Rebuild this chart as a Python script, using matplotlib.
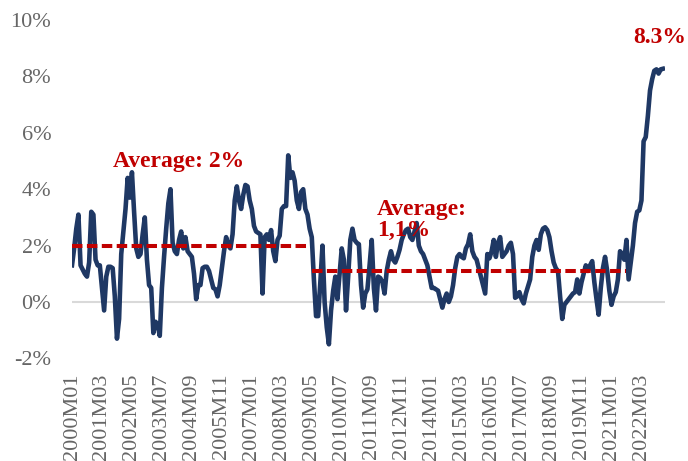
import matplotlib
matplotlib.use("Agg")
import matplotlib.pyplot as plt
import numpy as np

# ---- data ----
inflation = [
    1.30, 1.9, 2.6, 3.1, 1.3, 1.15, 1.0, 0.9, 1.4, 3.2,
    3.1, 1.5, 1.3, 1.3, 0.5, -0.3, 0.9, 1.25, 1.25, 1.2,
    0.2, -1.3, -0.6, 1.7, 2.5, 3.3, 4.4, 3.7, 4.6, 3.2,
    1.9, 1.6, 1.7, 2.4, 3.0, 1.5, 0.6, 0.5, -1.1, -0.7,
    -0.8, -1.2, 0.5, 1.6, 2.6, 3.5, 4.0, 2.1, 1.8, 1.7,
    2.2, 2.5, 1.9, 2.3, 1.8, 1.7, 1.6, 1.0, 0.1, 0.6,
    0.6, 1.2, 1.25, 1.25, 1.1, 0.8, 0.5, 0.45, 0.2, 0.6,
    1.2, 1.8, 2.3, 2.0, 1.9, 2.4, 3.6, 4.1, 3.6, 3.3,
    3.8, 4.15, 4.1, 3.6, 3.3, 2.7, 2.5, 2.45, 2.4, 0.3,
    2.3, 2.4, 2.2, 2.55, 1.8, 1.45, 2.2, 2.35, 3.3, 3.4,
    3.4, 5.2, 4.4, 4.6, 4.3, 3.6, 3.3, 3.9, 4.0, 3.3,
    3.1, 2.6, 2.3, 0.8, -0.5, -0.5, 0.7, 2.0, 0.0, -0.9,
    -1.5, -0.3, 0.4, 0.9, 0.1, 1.0, 1.9, 1.5, -0.3, 0.9,
    2.2, 2.6, 2.2, 2.1, 2.05, 0.6, -0.2, 0.3, 0.45, 1.3,
    2.2, 0.5, -0.3, 0.9, 0.85, 0.7, 0.3, 1.1, 1.5, 1.8,
    1.5, 1.4, 1.6, 1.85, 2.2, 2.4, 2.55, 2.6, 2.3, 2.2,
    2.5, 2.8, 2.0, 1.8, 1.7, 1.5, 1.3, 0.9, 0.5, 0.5,
    0.45, 0.4, 0.1, -0.2, 0.1, 0.3, 0.0, 0.2, 0.6, 1.2,
    1.6, 1.7, 1.6, 1.55, 1.9, 2.05, 2.4, 1.8, 1.6, 1.5,
    1.2, 0.9, 0.6, 0.3, 1.7, 1.55, 1.8, 2.2, 1.6, 2.1,
    2.3, 1.6, 1.7, 1.8, 2.0, 2.1, 1.7, 0.15, 0.2, 0.35,
    0.1, -0.05, 0.3, 0.55, 0.8, 1.6, 2.0, 2.2, 1.85, 2.4,
    2.6, 2.65, 2.55, 2.3, 1.8, 1.4, 1.2, 1.1, 0.2, -0.6,
    -0.1, 0.0, 0.1, 0.2, 0.3, 0.35, 0.8, 0.3, 0.7, 1.0,
    1.3, 1.1, 1.3, 1.45, 0.7, 0.1, -0.45, 0.5, 1.2, 1.6,
    1.1, 0.4, -0.1, 0.2, 0.35, 0.8, 1.8, 1.7, 1.5, 2.2,
    0.8, 1.4, 2.0, 2.8, 3.2, 3.25, 3.6, 5.7, 5.85, 6.6,
    7.5, 7.9, 8.2, 8.25, 8.1, 8.25, 8.27,
]

tick_labels = ["2000M01", "2001M03", "2002M05", "2003M07", "2004M09",
               "2005M11", "2007M01", "2008M03", "2009M05", "2010M07",
               "2011M09", "2012M11", "2014M01", "2015M03", "2016M05",
               "2017M07", "2018M09", "2019M11", "2021M01", "2022M03"]

avg_values = [2.0, 1.1]
avg_start_idx = [0, 112]
avg_end_idx = [110, 259]
avg_labels = ["Average: 2%", "Average:\n1,1%"]
last_label = "8.3%"

# ---- plot ----
plt.rcParams['font.family'] = ['Liberation Serif', 'DejaVu Serif']

fig = plt.figure(figsize=(6.88, 4.61), dpi=100)
ax = fig.add_axes([72 / 688, 1 - 358.4 / 461, 593 / 688, (358.4 - 20) / 461])

x = np.arange(len(inflation))
navy = '#1f3864'
red = '#c00000'

ax.axhline(0, color='#d9d9d9', lw=1.5, zorder=1)
ax.plot(x, inflation, color=navy, lw=3.3, zorder=3, solid_joinstyle='round')

for v, s, e in zip(avg_values, avg_start_idx, avg_end_idx):
    ax.plot([s, e], [v, v], color=red, lw=2.9, dashes=(2.6, 1.1),
            dash_capstyle='butt', zorder=4)

ax.text(19.0, 5.35, avg_labels[0], color=red, fontsize=17, fontweight='bold',
        ha='left', va='top', zorder=5)
ax.text(142.5, 3.65, avg_labels[1], color=red, fontsize=17, fontweight='bold',
        ha='left', va='top', linespacing=1.0, zorder=5)
ax.text(262, 9.75, last_label, color=red, fontsize=17, fontweight='bold',
        ha='left', va='top', zorder=5, clip_on=False)

ax.set_xlim(0, len(inflation))
ax.set_ylim(-2, 10)
ax.set_yticks(np.arange(-2, 11, 2))
ax.set_yticklabels([f"{v}%" for v in range(-2, 11, 2)])
ax.set_xticks(np.arange(0, 14 * len(tick_labels), 14))
ax.set_xticklabels(tick_labels, rotation=90)
ax.tick_params(axis='both', length=0, labelsize=16, labelcolor='#666666')
ax.tick_params(axis='x', pad=11)
ax.tick_params(axis='y', pad=15)
for sp in ax.spines.values():
    sp.set_visible(False)

fig.savefig("out.png", dpi=100)
